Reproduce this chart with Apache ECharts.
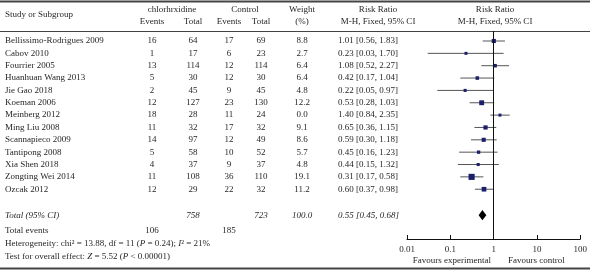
<!DOCTYPE html>
<html>
<head>
<meta charset="utf-8">
<script src="https://cdn.jsdelivr.net/npm/echarts@6/dist/echarts.min.js"></script>
<style>
  html, body { margin: 0; padding: 0; background: #fff; }
  #chart { width: 590px; height: 272px; }
</style>
</head>
<body>
<div id="chart"></div>
<script>
// study rows
var studies = ["Bellissimo-Rodrigues 2009", "Cabov 2010", "Fourrier 2005", "Huanhuan Wang 2013",
  "Jie Gao 2018", "Koeman 2006", "Meinberg 2012", "Ming Liu 2008", "Scannapieco 2009",
  "Tantipong 2008", "Xia Shen 2018", "Zongting Wei 2014", "Ozcak 2012"];
var chlEvents = [16, 1, 13, 5, 2, 12, 18, 11, 14, 5, 4, 11, 12];
var chlTotal = [64, 17, 114, 30, 45, 127, 28, 32, 97, 58, 37, 108, 29];
var ctlEvents = [17, 6, 12, 12, 9, 23, 11, 17, 12, 10, 9, 36, 22];
var ctlTotal = [69, 23, 114, 30, 45, 130, 24, 32, 49, 52, 37, 110, 32];
var weights = [8.8, 2.7, 6.4, 6.4, 4.8, 12.2, 0.0, 9.1, 8.6, 5.7, 4.8, 19.1, 11.2];
var rr = [1.01, 0.23, 1.08, 0.42, 0.22, 0.53, 1.40, 0.65, 0.59, 0.45, 0.44, 0.31, 0.60];
var ciLow = [0.56, 0.03, 0.52, 0.17, 0.05, 0.28, 0.84, 0.36, 0.30, 0.16, 0.15, 0.17, 0.37];
var ciHigh = [1.83, 1.70, 2.27, 1.04, 0.97, 1.03, 2.35, 1.15, 1.18, 1.23, 1.32, 0.58, 0.98];

// pooled result
var pooledTotals = [758, 723];
var pooledEvents = [106, 185];
var pooledWeight = 100.0;
var pooled = [0.55, 0.45, 0.68];

var xTicks = [0.01, 0.1, 1, 10, 100];

// layout
var FONT = "'Liberation Serif', 'DejaVu Serif', serif";
var FS = 9;
var INK = "#231f20";
var col = { study: 5, ev1: 152, tot1: 193, ev2: 229, tot2: 261, w: 302, ci: 338 };
var rowTotal = 14.1, rowEvents = 15.38, rowHet = 16.44, rowTest = 17.49, rowFav = 17.81;
var rowH1 = -2.51, rowH2 = -1.54, rowHs = -2.11;

function fmtCI(r, l, h) {
  return r.toFixed(2) + " [" + l.toFixed(2) + ", " + h.toFixed(2) + "]";
}

// text cells: [x, row, text, align, italic]
var cells = [];
function cell(x, row, text, align, italic) { cells.push([x, row, text, align || "center", italic ? 1 : 0]); }

cell(col.study, rowHs, "Study or Subgroup", "left");
cell(172, rowH1, "chlorhrxidine");
cell(245, rowH1, "Control");
cell(col.ev1, rowH2, "Events"); cell(col.tot1, rowH2, "Total");
cell(col.ev2, rowH2, "Events"); cell(col.tot2, rowH2, "Total");
cell(col.w, rowH1, "Weight"); cell(col.w, rowH2, "(%)");
cell(378, rowH1, "Risk Ratio"); cell(378, rowH2, "M-H, Fixed, 95% CI");
cell(495, rowH1, "Risk Ratio"); cell(495, rowH2, "M-H, Fixed, 95% CI");

studies.forEach(function (s, i) {
  cell(col.study, i, s, "left");
  cell(col.ev1, i, String(chlEvents[i]));
  cell(col.tot1, i, String(chlTotal[i]));
  cell(col.ev2, i, String(ctlEvents[i]));
  cell(col.tot2, i, String(ctlTotal[i]));
  cell(col.w, i, weights[i].toFixed(1));
  cell(col.ci, i, fmtCI(rr[i], ciLow[i], ciHigh[i]), "left");
});

cell(col.study, rowTotal, "Total (95% CI)", "left", true);
cell(col.tot1, rowTotal, String(pooledTotals[0]), "center", true);
cell(col.tot2, rowTotal, String(pooledTotals[1]), "center", true);
cell(col.w, rowTotal, pooledWeight.toFixed(1), "center", true);
cell(col.ci, rowTotal, fmtCI(pooled[0], pooled[1], pooled[2]), "left", true);
cell(col.study, rowEvents, "Total events", "left");
cell(col.ev1, rowEvents, String(pooledEvents[0]));
cell(col.ev2, rowEvents, String(pooledEvents[1]));
cell(col.study, rowHet, "Heterogeneity: chi\u00b2 = 13.88, df = 11 ({i|P} = 0.24); {i|I}\u00b2 = 21%", "left");
cell(col.study, rowTest, "Test for overall effect: {i|Z} = 5.52 ({i|P} < 0.00001)", "left");
cell(491, rowFav, "Favours experimental", "right");
cell(508, rowFav, "Favours control", "left");

var forest = studies.map(function (s, i) { return [rr[i], i, ciLow[i], ciHigh[i], weights[i]]; });

var chart = echarts.init(document.getElementById("chart"), null, { renderer: "canvas" });

chart.setOption({
  animation: false,
  backgroundColor: "#fff",
  grid: [
    { left: 407, right: 7, top: 31, bottom: 33 },
    { left: 0, right: 0, top: 0, bottom: 0 }
  ],
  xAxis: [
    {
      gridIndex: 0, type: "log", logBase: 10, min: 0.01, max: 100, position: "bottom",
      axisLine: { onZero: false, lineStyle: { color: "#111", width: 1 } },
      axisTick: { inside: true, length: 4, lineStyle: { color: "#111" } },
      minorTick: { show: false },
      splitLine: { show: false },
      axisLabel: {
        color: INK, fontFamily: FONT, fontSize: FS, margin: 6,
        formatter: function (v) { return String(+Number(v).toPrecision(2)); }
      }
    },
    { gridIndex: 1, type: "value", min: 0, max: 590, show: false }
  ],
  yAxis: [
    { gridIndex: 0, type: "value", inverse: true, min: -0.81, max: 16.03, show: false },
    { gridIndex: 1, type: "value", inverse: true, min: -3.32, max: 18.70, show: false }
  ],
  graphic: [
    { type: "line", shape: { x1: 0, y1: 1.5, x2: 590, y2: 1.5 }, style: { stroke: "#444", lineWidth: 2 } },
    { type: "line", shape: { x1: 0, y1: 31.5, x2: 590, y2: 31.5 }, style: { stroke: "#444", lineWidth: 1 } },
    { type: "line", shape: { x1: 0, y1: 268.5, x2: 590, y2: 268.5 }, style: { stroke: "#444", lineWidth: 2 } }
  ],
  series: [
    {
      type: "custom", xAxisIndex: 0, yAxisIndex: 0, data: forest, clip: false,
      renderItem: function (params, api) {
        var p = api.coord([api.value(0), api.value(1)]);
        var a = api.coord([api.value(2), api.value(1)]);
        var b = api.coord([api.value(3), api.value(1)]);
        var sz = Math.max(3, Math.sqrt(api.value(4)) * 1.4);
        return {
          type: "group",
          children: [
            { type: "line", shape: { x1: a[0], y1: p[1], x2: b[0], y2: p[1] }, style: { stroke: "#555", lineWidth: 1 } },
            { type: "rect", shape: { x: p[0] - sz / 2, y: p[1] - sz / 2, width: sz, height: sz }, style: { fill: "#1c1f6b" } }
          ]
        };
      },
      markLine: {
        silent: true, symbol: "none", label: { show: false },
        lineStyle: { color: "#111", width: 1, type: "solid" },
        data: [{ xAxis: 1 }]
      }
    },
    {
      type: "custom", xAxisIndex: 0, yAxisIndex: 0, data: [[pooled[0], rowTotal, pooled[1], pooled[2]]],
      renderItem: function (params, api) {
        var r = api.value(1);
        var c = api.coord([api.value(0), r]);
        var l = api.coord([api.value(2), r]);
        var h = api.coord([api.value(3), r]);
        var top = api.coord([api.value(0), r - 0.42]);
        var bot = api.coord([api.value(0), r + 0.42]);
        return {
          type: "polygon",
          shape: { points: [[l[0], c[1]], [c[0], top[1]], [h[0], c[1]], [c[0], bot[1]]] },
          style: { fill: "#000" }
        };
      }
    },
    {
      type: "custom", xAxisIndex: 1, yAxisIndex: 1, data: cells, clip: false,
      renderItem: function (params, api) {
        var d = cells[params.dataIndex];
        var p = api.coord([d[0], d[1]]);
        return {
          type: "text", x: p[0], y: p[1],
          style: {
            text: d[2], fill: INK, align: d[3], verticalAlign: "middle",
            fontFamily: FONT, fontSize: FS, fontStyle: d[4] ? "italic" : "normal",
            rich: { i: { fontFamily: FONT, fontSize: FS, fontStyle: "italic", fill: INK } }
          }
        };
      }
    }
  ]
});
</script>
</body>
</html>
